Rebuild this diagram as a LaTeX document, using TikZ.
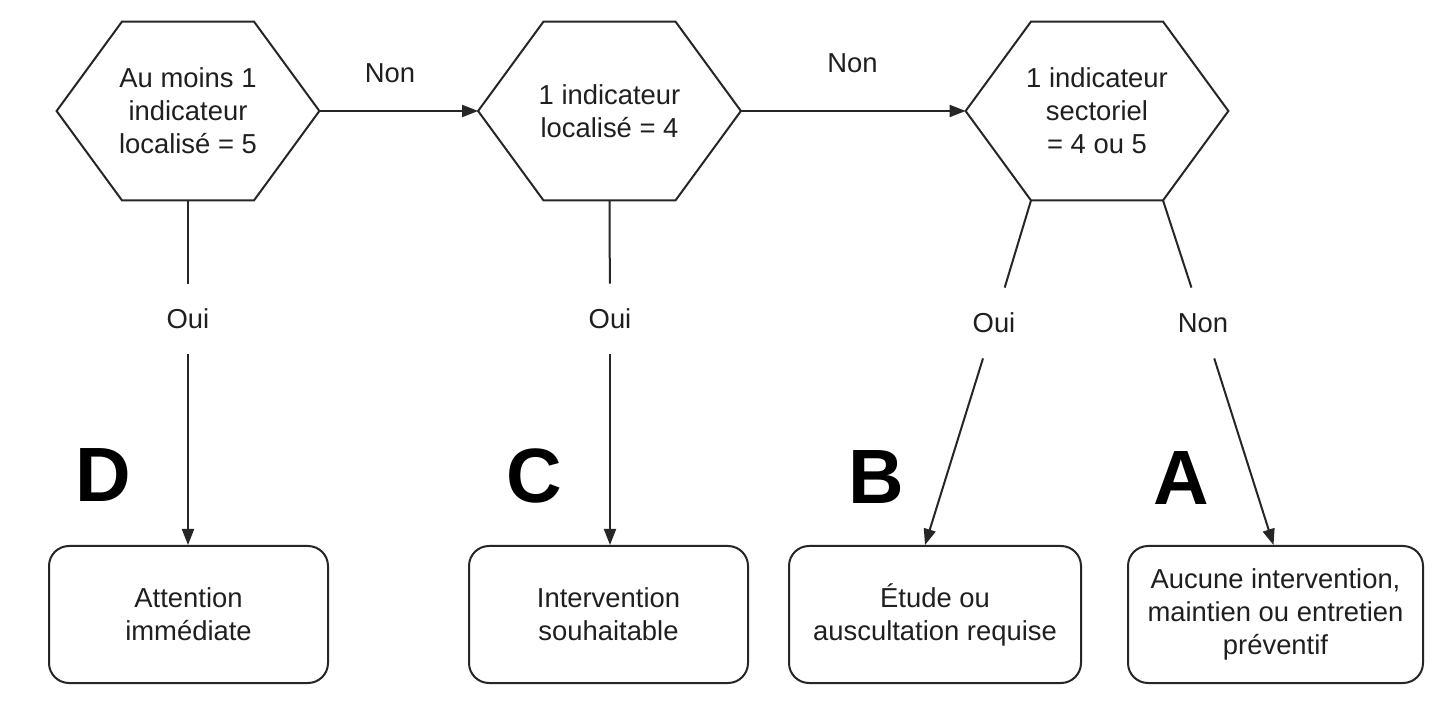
\documentclass[tikz,border=0pt]{standalone}
\usepackage{fontspec}
\setmainfont{Liberation Sans}
\usetikzlibrary{arrows.meta,calc}
\begin{document}
\begin{tikzpicture}[x=0.5pt,y=-0.5pt,
  every node/.style={text=black!88},
  conn/.style={line width=1pt, draw=black!85},
  arr/.style={conn, -{Triangle[length=8pt,width=6pt]}},
  txt/.style={font=\fontsize{13.7}{16.5}\selectfont},
  hexnode/.style={txt, minimum width=131pt, minimum height=89pt, inner sep=0pt, align=center},
  boxnode/.style={txt, conn, rounded corners=10pt, minimum height=68.5pt, inner sep=0pt, align=center},
  lbl/.style={txt, inner sep=0pt, minimum height=35pt},
  grade/.style={font=\fontsize{38.5}{40}\selectfont\bfseries, inner sep=0pt, text=black}]
\useasboundingbox (0,0) rectangle (1441,705);
\fill[white] (0,0) rectangle (1441,705);

% decision hexagons
\node[hexnode] (h1) at (188,111) {Au moins 1\\indicateur\\localisé = 5};
\node[hexnode] (h2) at (609.5,111) {1 indicateur\\localisé = 4};
\node[hexnode] (h3) at (1097,111) {1 indicateur\\sectoriel\\= 4 ou 5};
\foreach \h in {h1,h2,h3}
  \draw[conn] (\h.west) -- ([xshift=-33pt]\h.north) -- ([xshift=33pt]\h.north)
     -- (\h.east) -- ([xshift=33pt]\h.south) -- ([xshift=-33pt]\h.south) -- cycle;

% result boxes
\node[boxnode, minimum width=139.5pt] (bD) at (188.5,614.5) {Attention\\immédiate};
\node[boxnode, minimum width=139.5pt] (bC) at (608.5,614.5) {Intervention\\souhaitable};
\node[boxnode, minimum width=146pt] (bB) at (935,614.5) {Étude ou\\auscultation requise};
\node[boxnode, minimum width=147.5pt] (bA) at (1275.5,614.5) {Aucune intervention,\\maintien ou entretien\\préventif};

% grade letters
\node[grade] (gD) at (103.5,475.5) {D};
\node[grade] (gC) at (534,475.5) {C};
\node[grade] (gB) at (876,477) {B};
\node[grade] (gA) at (1181.5,478.5) {A};

% labels
\node[txt] (n1) at (390,73) {Non};
\node[txt] (n2) at (852.5,63) {Non};
\node[lbl] (o1) at (188,319) {Oui};
\node[lbl] (o2) at (610,319) {Oui};
\node[lbl] (o3) at (994,323) {Oui};
\node[lbl] (n3) at (1203,323) {Non};

% connectors
\draw[arr] (h1.east) -- (h2.west);
\draw[arr] (h2.east) -- (h3.west);
\draw[conn] (h1.south) -- (o1);
\draw[arr] (o1) -- (o1 |- bD.north);
\draw[conn] (h2.south) -- (o2);
\draw[arr] (o2) -- (o2 |- bC.north);
\draw[conn] ([xshift=-33pt]h3.south) -- (o3);
\draw[arr] (o3) -- ([xshift=-5pt]bB.north);
\draw[conn] ([xshift=33pt]h3.south) -- (n3);
\draw[arr] (n3) -- ([xshift=-1pt]bA.north);
\end{tikzpicture}
\end{document}
